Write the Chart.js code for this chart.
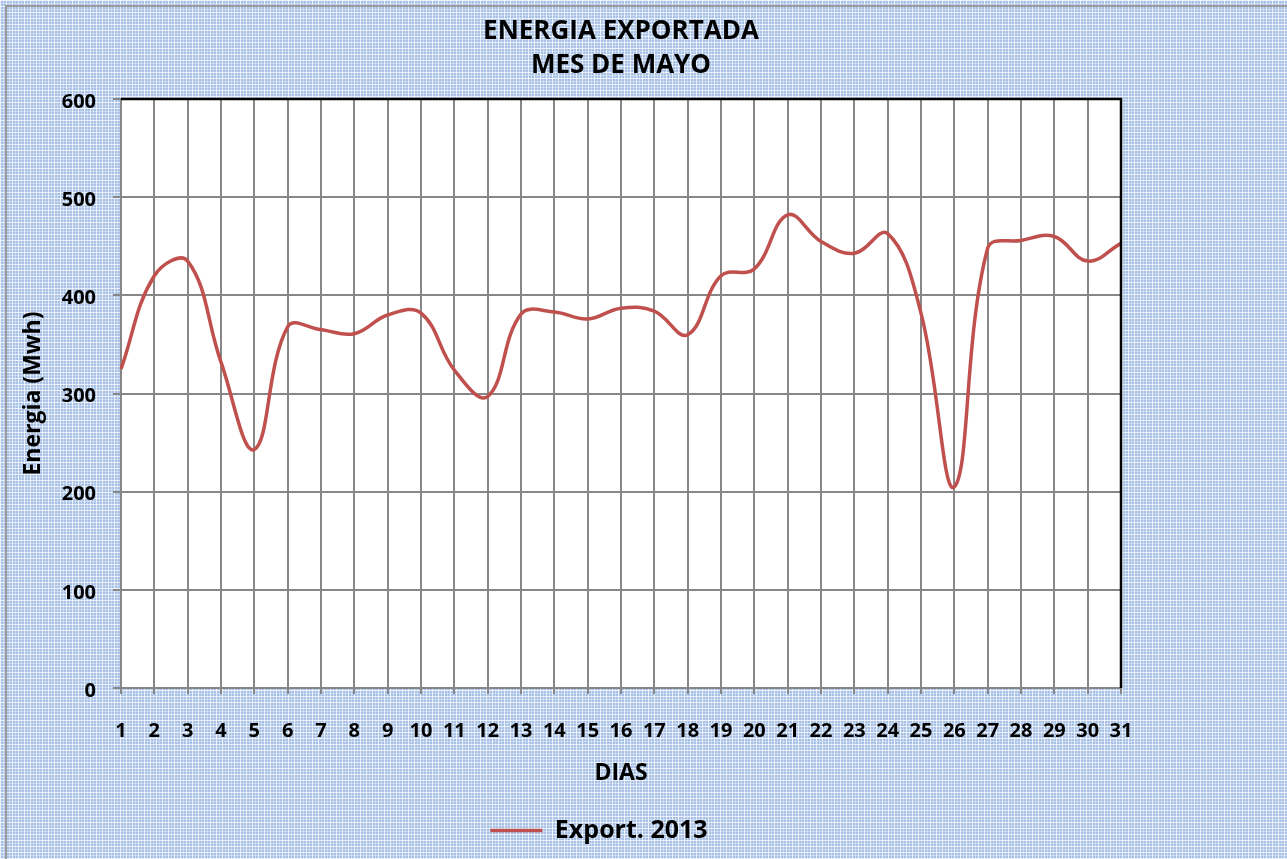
<!DOCTYPE html>
<html lang="es">
<head>
<meta charset="UTF-8">
<title>Energia exportada - mes de mayo</title>
<script src="https://cdn.jsdelivr.net/npm/chart.js"></script>
<style>
    html, body {
        margin: 0;
        padding: 0;
    }

    body {
        width: 1287px;
        height: 859px;
        overflow: hidden;
        position: relative;
        background-color: #a8c2e7;
        background-image:
            repeating-linear-gradient(90deg, rgba(255, 255, 255, 0.75) 0 1px, transparent 1px 3px, rgba(255, 255, 255, 0.35) 3px 4px, transparent 4px 6px),
            repeating-linear-gradient(0deg, rgba(255, 255, 255, 0.75) 0 1px, transparent 1px 3px, rgba(255, 255, 255, 0.35) 3px 4px, transparent 4px 6px);
    }

    .marco {
        position: absolute;
        left: 5px;
        top: 5px;
        width: 1400px;
        height: 1000px;
        border-left: 2px solid #9c9c9c;
        border-top: 2px solid #9c9c9c;
    }

    .chart-container {
        position: absolute;
        left: 0;
        top: 0;
    }
</style>
</head>

<body>
    <div class="marco"></div>
    <div class="chart-container"><canvas id="energiaChart" width="1287" height="859"></canvas></div>

<script>
    // dias del mes (eje x)
    const dias = ['1', '2', '3', '4', '5', '6', '7', '8', '9', '10',
        '11', '12', '13', '14', '15', '16', '17', '18', '19', '20',
        '21', '22', '23', '24', '25', '26', '27', '28', '29', '30', '31'];

    // energia exportada por dia (Mwh)
    const export2013 = [325, 420, 435, 332, 243, 368, 365, 361, 380, 382,
        324, 297, 381, 383, 376, 387, 384, 360, 420, 427,
        482, 455, 443, 463, 382, 205, 448, 456, 460, 435, 453];

    const tituloGrafico = ['ENERGIA EXPORTADA', 'MES DE MAYO'];
    const yMin = 0;
    const yMax = 600;
    const yPaso = 100;

    const fuente = "'Open Sans', 'DejaVu Sans', sans-serif";
    const gris = '#878787';

    // fondo blanco del area de trazado y borde negro arriba/derecha
    const marcoGrafico = {
        id: 'marcoGrafico',
        beforeDraw(chart) {
            const { ctx, chartArea: a } = chart;
            ctx.save();
            ctx.fillStyle = '#ffffff';
            ctx.fillRect(a.left, a.top, a.right - a.left, a.bottom - a.top);
            ctx.restore();
        },
        afterDraw(chart) {
            const { ctx, chartArea: a } = chart;
            ctx.save();
            ctx.strokeStyle = '#000000';
            ctx.lineWidth = 2.5;
            ctx.beginPath();
            ctx.moveTo(a.left, a.top);
            ctx.lineTo(a.right, a.top);
            ctx.lineTo(a.right, a.bottom);
            ctx.stroke();
            ctx.restore();
        }
    };

    const ctx = document.getElementById('energiaChart').getContext('2d');

    new Chart(ctx, {
        type: 'line',
        data: {
            labels: dias,
            datasets: [{
                label: 'Export. 2013',
                data: export2013,
                borderColor: '#c0504d',
                backgroundColor: '#c0504d',
                borderWidth: 3.5,
                pointRadius: 0,
                tension: 0.4,
                fill: false
            }]
        },
        options: {
            responsive: false,
            animation: false,
            layout: { padding: { left: 16, right: 105, top: 0, bottom: 6 } },
            plugins: {
                title: {
                    display: true,
                    text: tituloGrafico,
                    color: '#000',
                    fullSize: false,
                    font: { family: fuente, size: 26, weight: 'bold', lineHeight: 1.31 },
                    padding: { top: 15, bottom: 16 }
                },
                legend: {
                    position: 'bottom',
                    labels: {
                        color: '#000',
                        font: { family: fuente, size: 25, weight: 'bold' },
                        usePointStyle: true,
                        pointStyle: 'line',
                        pointStyleWidth: 52,
                        padding: 10
                    }
                },
                tooltip: { enabled: false }
            },
            scales: {
                x: {
                    type: 'category',
                    offset: false,
                    grid: { color: gris, lineWidth: 2, tickLength: 6 },
                    border: { color: gris, width: 2 },
                    ticks: {
                        color: '#000',
                        font: { family: fuente, size: 20, weight: 'bold' },
                        autoSkip: false,
                        maxRotation: 0,
                        padding: 25
                    },
                    title: {
                        display: true,
                        text: 'DIAS',
                        color: '#000',
                        font: { family: fuente, size: 23, weight: 'bold' },
                        padding: { top: 0, bottom: 21 }
                    },
                    afterFit(scale) { scale.height = 120; }
                },
                y: {
                    min: yMin,
                    max: yMax,
                    grid: { color: gris, lineWidth: 2, tickLength: 8 },
                    border: { color: gris, width: 2 },
                    ticks: {
                        stepSize: yPaso,
                        color: '#000',
                        font: { family: fuente, size: 20, weight: 'bold' },
                        padding: 17,
                        labelOffset: 3
                    },
                    title: {
                        display: true,
                        text: 'Energia (Mwh)',
                        color: '#000',
                        font: { family: fuente, size: 23, weight: 'bold' },
                        padding: { top: 4, bottom: 0 }
                    },
                    afterFit(scale) { scale.width = 105; }
                },
                // eje vacio a la derecha, solo para centrar la leyenda como en el original
                yDer: {
                    position: 'right',
                    ticks: { display: false },
                    grid: { display: false },
                    border: { display: false },
                    afterFit(scale) { scale.width = 61; }
                }
            }
        },
        plugins: [marcoGrafico]
    });
</script>
</body>
</html>
